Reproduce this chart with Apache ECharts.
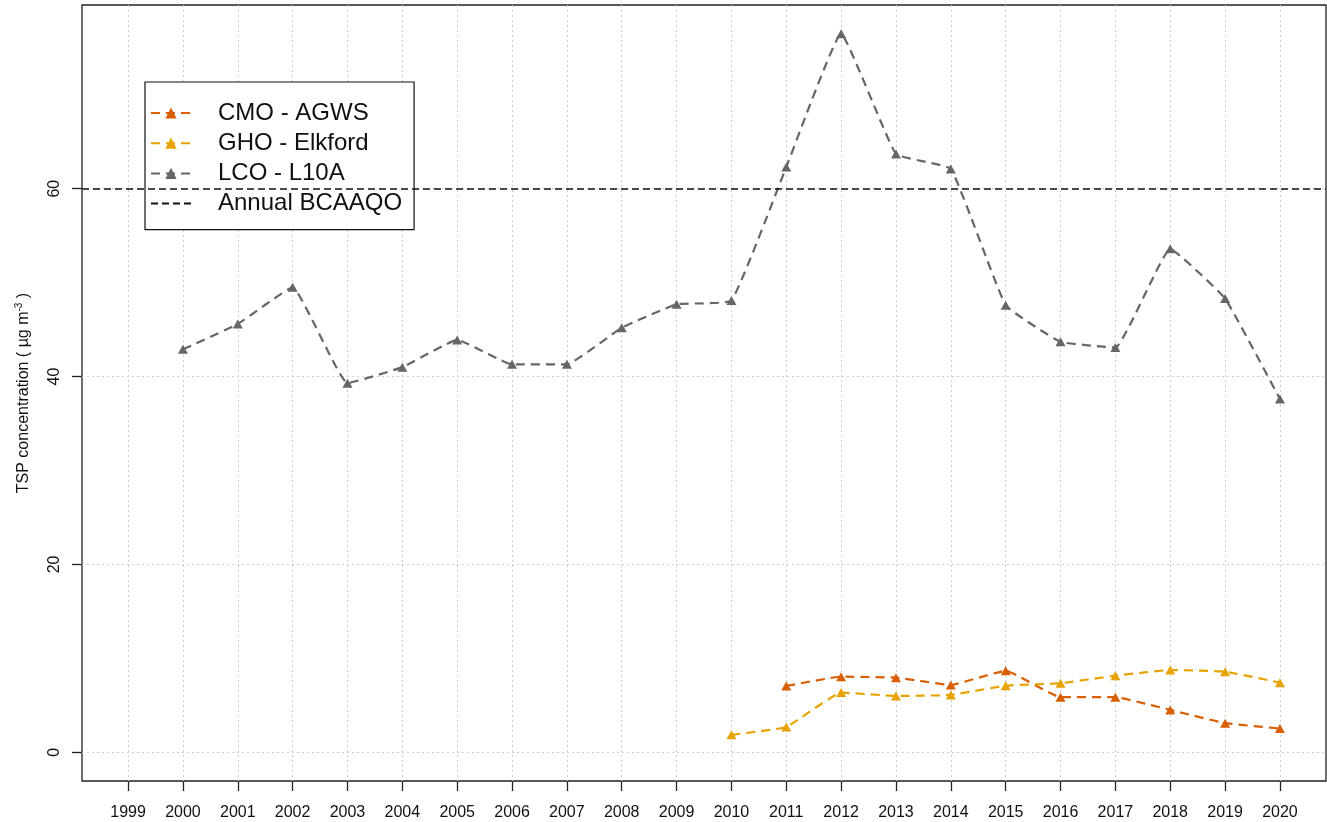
<!DOCTYPE html>
<html>
<head>
<meta charset="utf-8">
<script src="https://cdn.jsdelivr.net/npm/echarts@6/dist/echarts.min.js"></script>
<style>
  html, body { margin: 0; padding: 0; background: #fff; }
  #chart { width: 1327px; height: 822px; }
</style>
</head>
<body>
<div id="chart"></div>
<script>
  // annual TSP means per station
  var years = [2000, 2001, 2002, 2003, 2004, 2005, 2006, 2007, 2008, 2009, 2010,
               2011, 2012, 2013, 2014, 2015, 2016, 2017, 2018, 2019, 2020];
  var tickYears = [1999, 2000, 2001, 2002, 2003, 2004, 2005, 2006, 2007, 2008, 2009, 2010,
                   2011, 2012, 2013, 2014, 2015, 2016, 2017, 2018, 2019, 2020];
  var yTicks = [0, 20, 40, 60];

  var cmoAgws = [null, null, null, null, null, null, null, null, null, null, null,
                 7.06, 8.05, 7.94, 7.17, 8.68, 5.86, 5.86, 4.51, 3.10, 2.53];
  var ghoElkford = [null, null, null, null, null, null, null, null, null, null, 1.86,
                    2.68, 6.35, 6.0, 6.1, 7.09, 7.35, 8.15, 8.76, 8.58, 7.41];
  var lcoL10a = [42.9, 45.6, 49.5, 39.3, 41.0, 43.9, 41.3, 41.3, 45.2, 47.7, 48.1,
                 62.3, 76.5, 63.7, 62.1, 47.6, 43.7, 43.1, 53.6, 48.3, 37.6];
  var bcaaqo = 60;

  var FONT = 'Liberation Sans, Arial, sans-serif';

  function toPoints(vals) {
    var pts = [];
    for (var i = 0; i < years.length; i++) {
      if (vals[i] != null) pts.push([years[i], vals[i]]);
    }
    return pts;
  }

  function stationSeries(name, color, vals) {
    return {
      name: name,
      type: 'line',
      data: toPoints(vals),
      smooth: 0.1,
      symbol: 'triangle',
      symbolSize: [10, 9],
      itemStyle: { color: color },
      lineStyle: { color: color, width: 2.2, type: [9, 6] },
      z: 3
    };
  }

  var myChart = echarts.init(document.getElementById('chart'));
  var option = {
    animation: false,
    textStyle: { fontFamily: FONT },
    grid: {
      left: 82, right: 1, top: 5, bottom: 41,
      show: true, borderColor: '#222', borderWidth: 1.3
    },
    legend: {
      orient: 'vertical',
      left: 145,
      top: 82,
      padding: [19, 12, 14, 5],
      itemGap: 6.2,
      itemWidth: 40,
      itemHeight: 14,
      backgroundColor: '#fff',
      borderColor: '#111',
      borderWidth: 1.2,
      borderRadius: 0,
      textStyle: { fontSize: 24, color: '#111', fontFamily: FONT, padding: [0, 0, 0, 22] },
      data: ['CMO - AGWS', 'GHO - Elkford', 'LCO - L10A',
             { name: 'Annual BCAAQO', itemStyle: { opacity: 0 } }]
    },
    xAxis: {
      type: 'value',
      min: 1998.16,
      max: 2020.84,
      axisLine: { show: false, onZero: false },
      axisTick: { show: true, length: 10, customValues: tickYears, lineStyle: { color: '#222', width: 1.3 } },
      axisLabel: {
        customValues: tickYears, margin: 24, fontSize: 16, color: '#111',
        formatter: function (v) { return String(v); }
      },
      splitLine: { show: true, lineStyle: { color: '#cfcfcf', type: [2, 3], width: 1 } }
    },
    yAxis: {
      type: 'value',
      min: -3.06,
      max: 79.56,
      name: 'TSP concentration ( µg m{sup|-3} )',
      nameLocation: 'middle',
      nameGap: 48,
      nameRotate: 90,
      nameTextStyle: {
        fontSize: 16, color: '#111', fontFamily: FONT,
        rich: { sup: { fontSize: 10, verticalAlign: 'top', padding: [0, 0, 10, 0], fontFamily: FONT, color: '#111' } }
      },
      axisLine: { show: false, onZero: false },
      axisTick: { show: true, length: 10, customValues: yTicks, lineStyle: { color: '#222', width: 1.3 } },
      axisLabel: { customValues: yTicks, rotate: 90, margin: 19, fontSize: 16, color: '#111' },
      splitLine: { show: true, lineStyle: { color: '#cfcfcf', type: [2, 3], width: 1 } }
    },
    series: [
      stationSeries('CMO - AGWS', '#D95F02', cmoAgws),
      stationSeries('GHO - Elkford', '#E8A302', ghoElkford),
      stationSeries('LCO - L10A', '#666666', lcoL10a),
      {
        name: 'Annual BCAAQO',
        type: 'line',
        data: [],
        symbol: 'none',
        itemStyle: { color: '#111' },
        lineStyle: { color: '#111', width: 1.6, type: [7, 4] },
        markLine: {
          silent: true,
          symbol: ['none', 'none'],
          label: { show: false },
          lineStyle: { color: '#111', width: 1.6, type: [7, 4] },
          data: [{ yAxis: bcaaqo }]
        },
        z: 2
      }
    ]
  };
  myChart.setOption(option);
</script>
</body>
</html>
